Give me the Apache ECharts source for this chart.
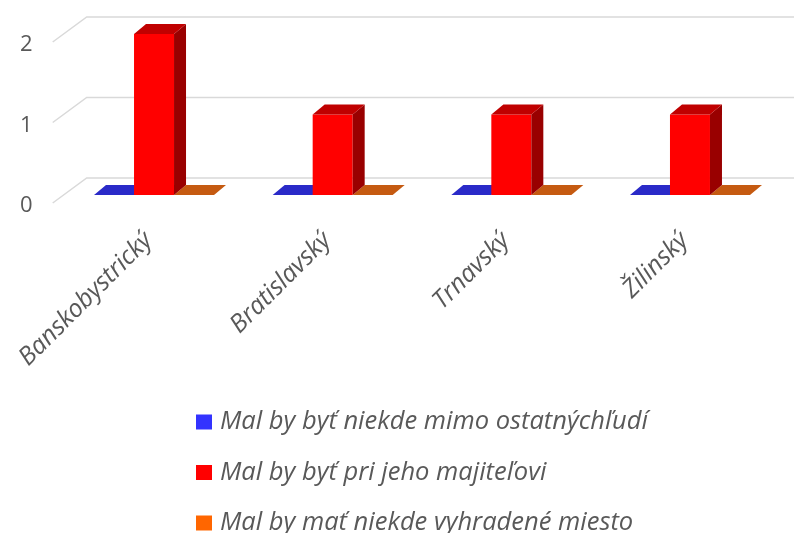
<!DOCTYPE html>
<html>
<head>
<meta charset="utf-8">
<script src="https://cdn.jsdelivr.net/npm/echarts@6/dist/echarts.min.js"></script>
<style>
  html, body { margin: 0; padding: 0; background: #fff; }
  #chart { width: 794px; height: 533px; }
</style>
</head>
<body>
<div id="chart"></div>
<script>
// data
let categories = ['Banskobystrický', 'Bratislavský', 'Trnavský', 'Žilinský'];
let seriesNames = [
    'Mal by byť niekde mimo ostatnýchľudí',
    'Mal by byť pri jeho majiteľovi',
    'Mal by mať niekde vyhradené miesto'
];
let valuesAway = [0, 0, 0, 0];
let valuesOwner = [2, 1, 1, 1];
let valuesReserved = [0, 0, 0, 0];
let yTicks = [0, 1, 2];

(function(){
    let FONT = '"Open Sans", "DejaVu Sans", sans-serif';
    let TEXT = '#595959';
    let BAR_W = 40;
    let DX = 12, DY = -10;   // pseudo 3d depth of a bar

    // front, top, side colours for each series
    let palette = [
        { legend: '#3333ff', front: '#3333ff', top: '#2a2ac8', side: '#1f1f99' },
        { legend: '#ff0000', front: '#ff0000', top: '#c00000', side: '#990000' },
        { legend: '#ff6600', front: '#ff6600', top: '#c55a11', side: '#8f410c' }
    ];

    let _barRenderer = function(idx){
        return function(params, api){
            let cat = api.value(0);
            let v = api.value(1);
            let base = api.coord([cat, 0]);
            let topPt = api.coord([cat, v]);
            let x0 = base[0] + (idx - 1) * BAR_W - BAR_W / 2;
            let x1 = x0 + BAR_W;
            let yb = base[1];
            let yt = topPt[1];
            let c = palette[idx];
            let children = [];
            if (yb - yt > 0.5) {
                children.push({
                    type: 'rect',
                    shape: { x: x0, y: yt, width: BAR_W, height: yb - yt },
                    style: { fill: c.front }
                });
                children.push({
                    type: 'polygon',
                    shape: { points: [[x1, yt], [x1 + DX, yt + DY], [x1 + DX, yb + DY], [x1, yb]] },
                    style: { fill: c.side }
                });
            }
            children.push({
                type: 'polygon',
                shape: { points: [[x0, yt], [x1, yt], [x1 + DX, yt + DY], [x0 + DX, yt + DY]] },
                style: { fill: c.top }
            });
            return { type: 'group', children: children };
        };
    };

    // floor/back-wall gridlines plus the value labels at the front edge
    let _gridRenderer = function(params, api){
        let v = api.value(1);
        let y = api.coord([0, v])[1];
        let cs = params.coordSys;
        return {
            type: 'group',
            children: [
                {
                    type: 'polyline',
                    shape: { points: [
                        [cs.x - 12, y + 8],
                        [cs.x + 22, y - 17],
                        [cs.x + cs.width + 16, y - 17]
                    ] },
                    style: { stroke: '#d9d9d9', lineWidth: 1.5, fill: null }
                },
                {
                    type: 'text',
                    x: cs.x - 32,
                    y: y + 11,
                    style: {
                        text: String(v),
                        fill: TEXT,
                        font: '22px ' + FONT,
                        align: 'right',
                        verticalAlign: 'middle'
                    }
                }
            ]
        };
    };

    let makeBarSeries = function(name, values, idx){
        return {
            name: name,
            type: 'custom',
            renderItem: _barRenderer(idx),
            itemStyle: { color: palette[idx].legend },
            data: values.map((val, i) => [i, val]),
            encode: { x: 0, y: 1 },
            z: 3 + (idx === 1 ? 1 : 0)
        };
    };

    let opts = {
        animation: false,
        textStyle: { fontFamily: FONT },
        grid: {
            left: 64.7,
            right: 14.7,
            top: 34,
            bottom: 338
        },
        xAxis: {
            type: 'category',
            data: categories,
            axisLine: { show: false },
            axisTick: { show: false },
            splitLine: { show: false },
            axisLabel: {
                interval: 0,
                rotate: 45,
                margin: 36,
                padding: [0, 8, 0, 0],
                color: TEXT,
                fontSize: 25,
                fontStyle: 'italic',
                fontFamily: FONT
            }
        },
        yAxis: {
            type: 'value',
            min: 0,
            max: 2,
            interval: 1,
            axisLine: { show: false },
            axisTick: { show: false },
            splitLine: { show: false },
            axisLabel: { show: false }
        },
        legend: {
            orient: 'vertical',
            left: 196,
            top: 409,
            height: 150,
            padding: 0,
            itemWidth: 16,
            itemHeight: 15,
            itemGap: 24.5,
            icon: 'rect',
            data: seriesNames,
            textStyle: {
                color: TEXT,
                fontSize: 25.5,
                lineHeight: 26,
                fontStyle: 'italic',
                fontFamily: FONT,
                padding: [0, 0, 0, 3]
            }
        },
        series: [
            {
                name: 'grid3d',
                type: 'custom',
                renderItem: _gridRenderer,
                data: yTicks.map(v => [0, v]),
                encode: { x: 0, y: 1 },
                silent: true,
                z: 1
            },
            makeBarSeries(seriesNames[0], valuesAway, 0),
            makeBarSeries(seriesNames[1], valuesOwner, 1),
            makeBarSeries(seriesNames[2], valuesReserved, 2)
        ]
    };

    let chart = echarts.init(document.getElementById('chart'));
    chart.setOption(opts);
})();
</script>
</body>
</html>
